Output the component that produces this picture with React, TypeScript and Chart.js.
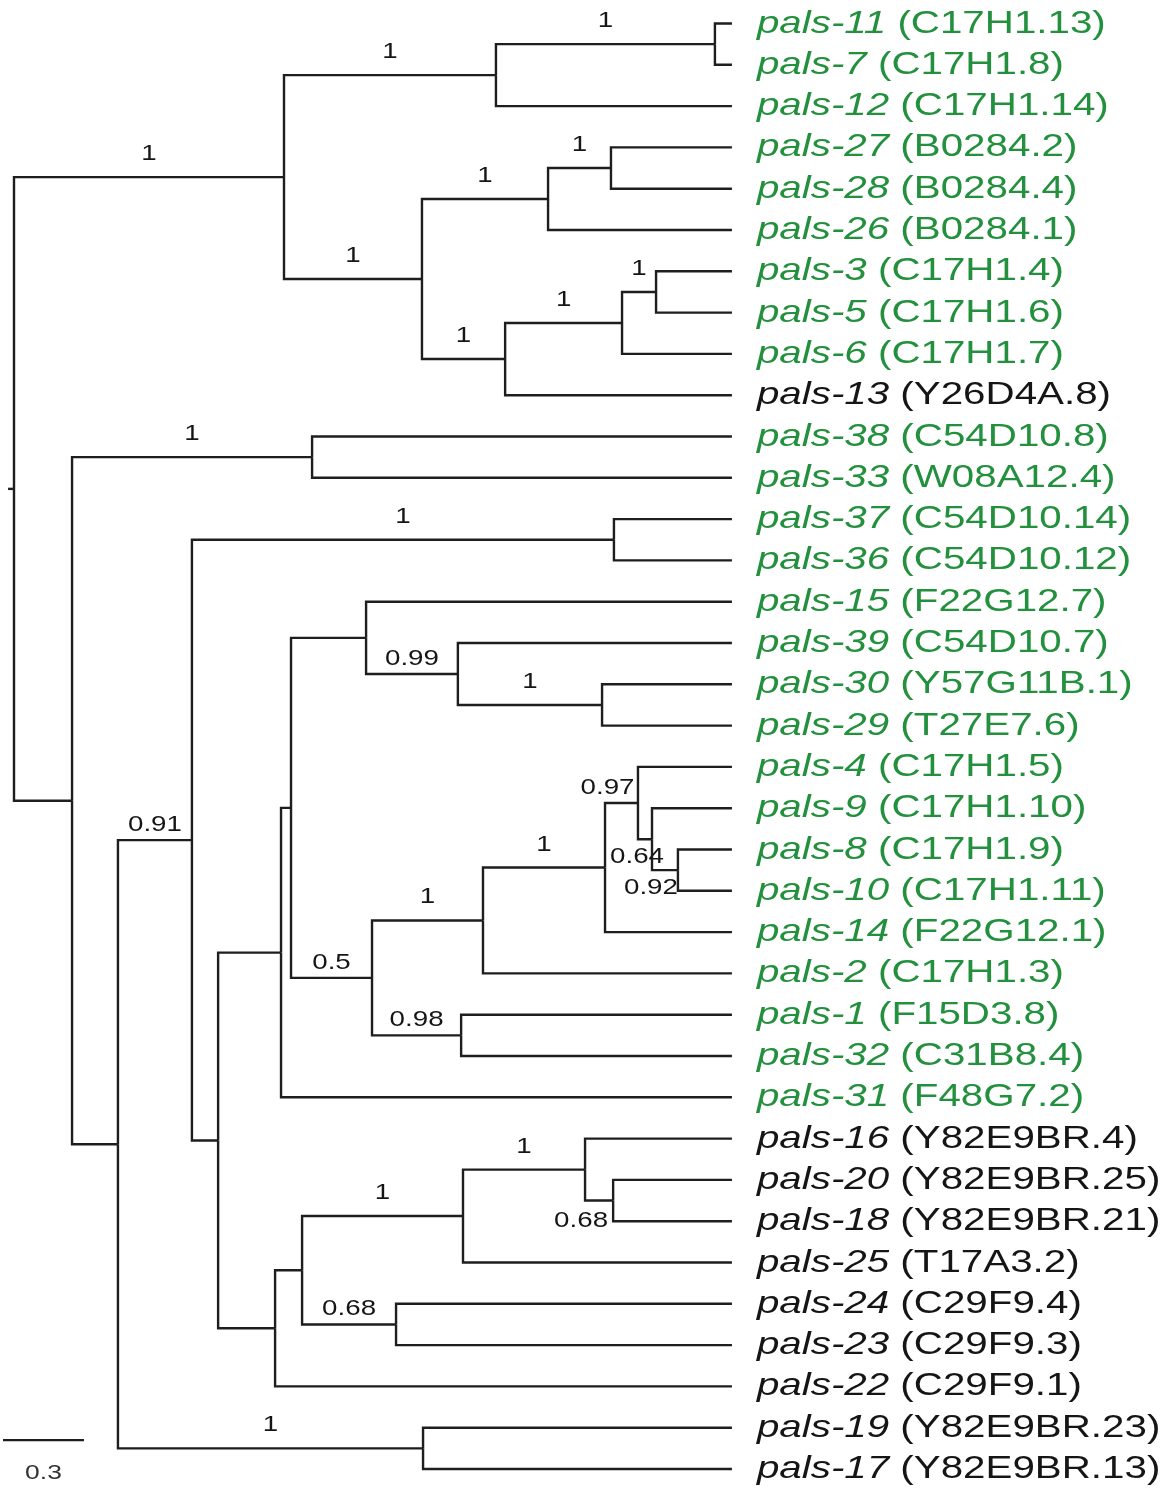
import React, { useEffect, useRef } from "react";
import { Chart, registerables } from "chart.js";

Chart.register(...registerables);

// ---------------- DATA ----------------
const leafNames = [
  "pals-11", "pals-7", "pals-12", "pals-27", "pals-28", "pals-26", "pals-3", "pals-5", "pals-6", "pals-13",
  "pals-38", "pals-33", "pals-37", "pals-36", "pals-15", "pals-39", "pals-30", "pals-29", "pals-4", "pals-9",
  "pals-8", "pals-10", "pals-14", "pals-2", "pals-1", "pals-32", "pals-31", "pals-16", "pals-20", "pals-18",
  "pals-25", "pals-24", "pals-23", "pals-22", "pals-19", "pals-17",
];
const leafLoci = [
  "C17H1.13", "C17H1.8", "C17H1.14", "B0284.2", "B0284.4", "B0284.1", "C17H1.4", "C17H1.6", "C17H1.7", "Y26D4A.8",
  "C54D10.8", "W08A12.4", "C54D10.14", "C54D10.12", "F22G12.7", "C54D10.7", "Y57G11B.1", "T27E7.6", "C17H1.5", "C17H1.10",
  "C17H1.9", "C17H1.11", "F22G12.1", "C17H1.3", "F15D3.8", "C31B8.4", "F48G7.2", "Y82E9BR.4", "Y82E9BR.25", "Y82E9BR.21",
  "T17A3.2", "C29F9.4", "C29F9.3", "C29F9.1", "Y82E9BR.23", "Y82E9BR.13",
];
// 1 = highlighted (green) gene, 0 = other
const leafHighlighted = [1, 1, 1, 1, 1, 1, 1, 1, 1, 0, 1, 1, 1, 1, 1, 1, 1, 1, 1, 1, 1, 1, 1, 1, 1, 1, 1, 0, 0, 0, 0, 0, 0, 0, 0, 0];
// parent internal node of each leaf
const leafParent = [3, 3, 2, 6, 6, 5, 9, 9, 8, 7, 11, 11, 14, 14, 18, 19, 20, 20, 24, 25, 26, 26, 23, 22, 27, 27, 16, 31, 32, 32, 30, 33, 33, 28, 34, 34];
// internal nodes: parent index, depth from root (substitutions/site), posterior support
const nodeParent = [-1, 0, 1, 2, 1, 4, 5, 4, 7, 8, 0, 10, 10, 12, 13, 13, 15, 16, 17, 18, 19, 17, 21, 22, 23, 24, 25, 21, 15, 28, 29, 30, 31, 29, 12];
const nodeDepth = [
  0, 1.0, 1.785, 2.596, 1.511, 1.978, 2.211, 1.819, 2.252, 2.378,
  0.215, 1.104, 0.385, 0.659, 2.222, 0.756, 0.989, 1.026, 1.304, 1.644,
  2.178, 1.326, 1.737, 2.189, 2.311, 2.363, 2.459, 1.656, 0.967, 1.067,
  1.663, 2.115, 2.219, 1.415, 1.515,
];
const nodeSupport: (number | null)[] = [
  null, 1, 1, 1, 1, 1, 1, 1, 1, 1,
  null, 1, null, 0.91, 1, null, null, null, null, 0.99,
  1, 0.5, 1, 1, 0.97, 0.64, 0.92, 0.98, null, null,
  1, 1, 0.68, 0.68, 1,
];
const tipDepth = 2.659;
const rootStubLength = 0.022;
const scaleBarLength = 0.3;
const scaleBarLabel = "0.3";

// ---------------- STYLE ----------------
const GREEN = "#23903e";
const BLACK = "#151515";
const LINE = "#1e1e1e";
const FONT = '"Liberation Sans", Arial, Helvetica, sans-serif';
const H_STRETCH = 1.26;
const LEAF_FONT_PX = 32;
const SUPPORT_FONT_PX = 22;
// label placement tweaks for crowded branches (node index -> shift/side)
const supportNudge: Record<number, { dx: number; below: boolean; dy?: number }> = {
  24: { dx: -14, below: false },
  25: { dx: -8, below: true },
  26: { dx: -14, below: true },
  32: { dx: -18, below: true, dy: 2 },
};

function computeNodeY(): number[] {
  const n = nodeParent.length;
  const ys: number[] = new Array(n).fill(0);
  for (let i = n - 1; i >= 0; i--) {
    const childYs: number[] = [];
    leafParent.forEach((p, li) => { if (p === i) childYs.push(li); });
    nodeParent.forEach((p, ni) => { if (p === i) childYs.push(ys[ni]); });
    ys[i] = (Math.min(...childYs) + Math.max(...childYs)) / 2;
  }
  return ys;
}

function drawStretched(ctx: CanvasRenderingContext2D, text: string, x: number, y: number, align: CanvasTextAlign) {
  ctx.save();
  ctx.translate(x, y);
  ctx.scale(H_STRETCH, 1);
  ctx.textAlign = align;
  ctx.fillText(text, 0, 0);
  ctx.restore();
}

export default function App() {
  const ref = useRef<HTMLCanvasElement>(null);

  useEffect(() => {
    const nodeY = computeNodeY();
    const datasets: any[] = [];
    const seg = (data: { x: number; y: number }[]) => ({
      data,
      showLine: true,
      borderColor: LINE,
      borderWidth: 2.4,
      pointRadius: 0,
      pointHoverRadius: 0,
      fill: false,
      tension: 0,
      borderJoinStyle: "miter",
      borderCapStyle: "butt",
    });
    // root stub
    datasets.push(seg([{ x: -rootStubLength, y: nodeY[0] }, { x: 0, y: nodeY[0] }]));
    // internal branches
    for (let i = 1; i < nodeParent.length; i++) {
      const p = nodeParent[i];
      datasets.push(seg([
        { x: nodeDepth[p], y: nodeY[p] },
        { x: nodeDepth[p], y: nodeY[i] },
        { x: nodeDepth[i], y: nodeY[i] },
      ]));
    }
    // leaf branches
    leafParent.forEach((p, li) => {
      datasets.push(seg([
        { x: nodeDepth[p], y: nodeY[p] },
        { x: nodeDepth[p], y: li },
        { x: tipDepth, y: li },
      ]));
    });

    const labelPlugin = {
      id: "treeLabels",
      afterDatasetsDraw(chart: any) {
        const ctx: CanvasRenderingContext2D = chart.ctx;
        const xs = chart.scales.x;
        const ys = chart.scales.y;
        ctx.save();
        ctx.textBaseline = "alphabetic";
        // leaf labels
        leafNames.forEach((name, i) => {
          const px = xs.getPixelForValue(tipDepth) + 25;
          const py = ys.getPixelForValue(i) + 9;
          ctx.fillStyle = leafHighlighted[i] ? GREEN : BLACK;
          ctx.font = `italic ${LEAF_FONT_PX}px ${FONT}`;
          const w = ctx.measureText(name + " ").width * H_STRETCH;
          drawStretched(ctx, name, px, py, "left");
          ctx.font = `${LEAF_FONT_PX}px ${FONT}`;
          drawStretched(ctx, "(" + leafLoci[i] + ")", px + w, py, "left");
        });
        // support labels
        ctx.fillStyle = BLACK;
        ctx.font = `${SUPPORT_FONT_PX}px ${FONT}`;
        nodeSupport.forEach((s, i) => {
          if (s === null || i === 0) return;
          const p = nodeParent[i];
          const x0 = xs.getPixelForValue(nodeDepth[p]);
          const x1 = xs.getPixelForValue(nodeDepth[i]);
          const by = ys.getPixelForValue(nodeY[i]);
          const nudge = supportNudge[i];
          let cx = (x0 + x1) / 2;
          let ty = by - (s === 1 ? 17 : 9);
          if (nudge) {
            cx += nudge.dx;
            if (nudge.below) ty = by + 24 + (nudge.dy || 0);
          }
          drawStretched(ctx, String(s), cx, ty, "center");
        });
        // scale bar
        const len = xs.getPixelForValue(scaleBarLength) - xs.getPixelForValue(0);
        const sx = chart.chartArea.left + 3;
        const sy = ys.getPixelForValue(34.3);
        ctx.strokeStyle = LINE;
        ctx.lineWidth = 2.4;
        ctx.beginPath();
        ctx.moveTo(sx, sy);
        ctx.lineTo(sx + len, sy);
        ctx.stroke();
        ctx.font = `${SUPPORT_FONT_PX - 1}px ${FONT}`;
        ctx.fillStyle = "#333";
        drawStretched(ctx, scaleBarLabel, sx + len / 2, sy + 39, "center");
        ctx.restore();
      },
    };

    const pxPerUnit = 270;
    const rootPx = 14;
    const leaf0Px = 23.5;
    const leafStep = 41.3;

    const chart = new Chart(ref.current!, {
      type: "scatter",
      data: { datasets },
      options: {
        animation: false,
        responsive: false,
        events: [],
        layout: { padding: 0 },
        plugins: { legend: { display: false }, tooltip: { enabled: false } },
        scales: {
          x: {
            type: "linear",
            display: false,
            min: -rootPx / pxPerUnit,
            max: (1169 - rootPx) / pxPerUnit,
          },
          y: {
            type: "linear",
            display: false,
            reverse: true,
            min: -leaf0Px / leafStep,
            max: (1500 - leaf0Px) / leafStep,
          },
        },
      } as any,
      plugins: [labelPlugin],
    });
    return () => chart.destroy();
  }, []);

  return (
    <div style={{ position: "absolute", left: 0, top: 0, width: 1169, height: 1500, background: "#fff" }}>
      <canvas ref={ref} width={1169} height={1500} style={{ display: "block" }} />
    </div>
  );
}
